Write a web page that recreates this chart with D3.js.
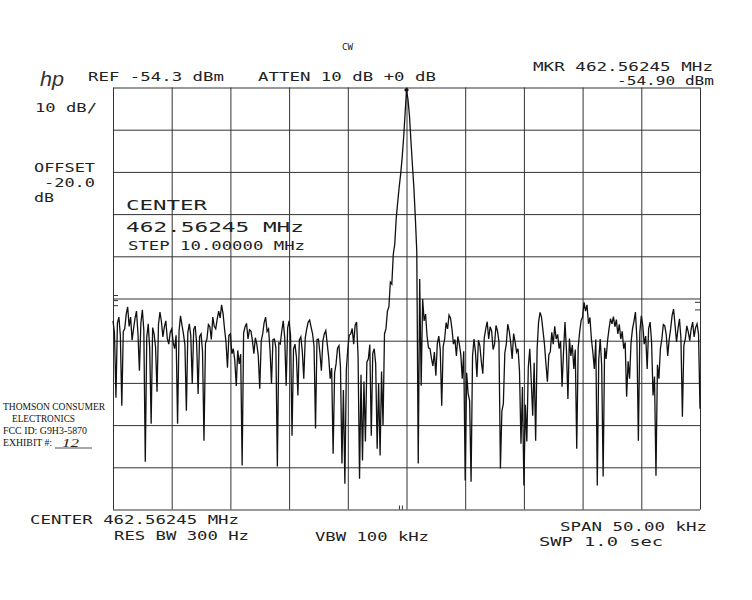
<!DOCTYPE html>
<html>
<head>
<meta charset="utf-8">
<script src="https://cdn.jsdelivr.net/npm/d3@7"></script>
<style>
  html, body { margin: 0; padding: 0; background: #fff; }
  svg { display: block; }
</style>
</head>
<body>
<svg id="chart" width="752" height="600"></svg>
<script>
// ---- Data ----
const refLevelDbm = -54.3;
const dbPerDiv = 10;
const divisions = 10;
const centerMHz = 462.56245;
const spanKHz = 50;
const sweepStartKHz = -25;   // offset from center
const sweepStopKHz = 25;

// trace level in dBm, 401 evenly spaced sweep points from -25 kHz to +25 kHz
const levelDbm = [
 -109.6,-112.4,-127.8,-110.2,-108.7,-113.0,-129.7,-112.1,-111.5,-108.0,
 -106.3,-110.9,-108.7,-114.2,-111.5,-109.0,-107.3,-112.5,-121.4,-110.1,
 -107.0,-111.8,-143.0,-113.5,-110.3,-116.0,-134.0,-111.2,-112.7,-115.8,
 -126.4,-110.4,-107.5,-109.8,-113.4,-111.0,-109.6,-113.8,-115.1,-112.3,
 -111.5,-114.7,-116.2,-113.0,-134.0,-112.0,-108.4,-110.6,-112.7,-115.3,
 -130.9,-112.4,-110.3,-113.1,-124.5,-111.6,-110.8,-114.9,-126.9,-113.3,
 -112.7,-116.8,-138.0,-115.0,-113.9,-110.5,-111.0,-114.0,-108.7,-110.9,
 -111.5,-109.2,-107.3,-108.9,-105.8,-107.9,-111.5,-114.6,-120.7,-113.0,
 -112.7,-117.4,-116.2,-119.0,-125.0,-116.6,-119.8,-117.5,-143.9,-112.5,
 -111.0,-110.2,-113.9,-111.7,-112.0,-114.3,-117.4,-113.6,-115.1,-117.9,
 -125.7,-114.4,-112.7,-110.0,-108.7,-112.1,-111.5,-116.5,-124.5,-114.0,
 -113.9,-116.0,-144.1,-114.8,-115.1,-112.0,-109.6,-113.5,-125.0,-111.3,
 -109.6,-113.2,-136.8,-116.3,-115.1,-118.2,-127.3,-114.1,-113.4,-116.9,
 -123.3,-113.7,-111.5,-109.9,-109.4,-111.1,-112.7,-115.6,-135.1,-114.0,
 -113.9,-117.2,-121.4,-114.4,-112.7,-111.9,-115.1,-118.3,-123.3,-120.8,
 -141.1,-122.0,-119.8,-116.1,-115.5,-120.5,-143.4,-126.0,-148.2,-121.2,
 -116.2,-113.0,-112.7,-111.4,-115.1,-110.6,-109.9,-118.0,-147.0,-122.4,
 -142.7,-124.0,-138.2,-119.4,-118.6,-115.2,-136.8,-117.3,-116.2,-119.8,
 -139.9,-124.4,-141.5,-121.6,-134.4,-112.7,-111.5,-107.3,-106.3,-100.4,
 -100.9,-93.8,-91.4,-85.3,-81.5,-77.9,-74.9,-71.1,-66.4,-60.7,
 -54.9,-57.1,-60.9,-66.8,-72.5,-77.9,-85.0,-93.1,-143.4,-99.7,
 -125.0,-104.4,-109.6,-108.0,-113.2,-116.0,-116.2,-118.5,-120.3,-117.0,
 -122.6,-115.0,-113.2,-116.4,-129.7,-115.7,-113.9,-110.0,-111.5,-108.2,
 -108.9,-111.6,-115.1,-114.0,-117.9,-113.3,-115.1,-117.6,-123.3,-116.8,
 -147.4,-121.9,-126.9,-128.5,-147.7,-118.0,-113.9,-117.0,-122.9,-114.2,
 -115.5,-119.3,-122.1,-113.6,-111.5,-109.8,-113.9,-111.0,-112.0,-116.4,
 -115.1,-110.7,-112.0,-114.5,-144.6,-131.0,-129.2,-117.2,-115.1,-110.4,
 -112.0,-114.8,-118.6,-112.6,-114.6,-117.0,-116.2,-121.5,-138.7,-125.3,
 -148.6,-129.5,-138.2,-120.6,-116.2,-123.8,-132.1,-119.5,-138.0,-116.3,
 -109.9,-107.6,-108.7,-111.9,-115.1,-119.7,-124.0,-117.6,-116.9,-112.3,
 -115.1,-110.9,-113.9,-112.8,-116.2,-114.4,-125.2,-117.0,-109.9,-116.6,
 -128.1,-113.8,-117.9,-115.3,-121.0,-116.4,-139.9,-115.9,-112.2,-109.5,
 -108.7,-105.2,-107.3,-105.8,-110.3,-108.8,-113.9,-117.1,-121.0,-114.0,
 -148.6,-118.8,-113.9,-120.2,-146.5,-116.0,-118.6,-114.3,-111.5,-109.1,
 -110.3,-108.6,-111.0,-109.3,-112.7,-110.4,-113.9,-112.1,-116.2,-114.7,
 -127.6,-119.2,-123.3,-114.8,-111.5,-109.7,-107.5,-113.9,-138.0,-112.3,
 -108.4,-110.7,-115.1,-113.2,-121.0,-111.4,-109.9,-114.6,-127.3,-122.8,
 -146.3,-120.0,-123.3,-116.2,-113.9,-110.5,-110.8,-112.9,-117.9,-114.0,
 -111.5,-108.3,-106.8,-110.6,-114.6,-111.5,-109.1,-113.7,-132.3,-115.4,
 -113.9,-110.8,-112.2,-114.3,-111.5,-109.9,-113.4,-111.2,-110.3,-112.8,
 -130.4
];
const markerKHz = 0;
const markerDbm = -54.90;

// annotation texts
const headerLeft = "REF -54.3 dBm";
const headerMid = "ATTEN 10 dB +0 dB";
const headerMkr1 = "MKR 462.56245 MHz";
const headerMkr2 = "-54.90 dBm";
const sideLabels = ["10 dB/", "OFFSET", "-20.0", "dB"];
const centerBlock = ["CENTER", "462.56245 MHz", "STEP 10.00000 MHz"];
const footLabels = ["CENTER 462.56245 MHz", "RES BW 300 Hz", "VBW 100 kHz", "SPAN 50.00 kHz", "SWP 1.0  sec"];
const stampLines = ["THOMSON CONSUMER", "ELECTRONICS", "FCC ID:  G9H3-5870", "EXHIBIT #:"];
const exhibitNo = "12";

// ---- Drawing ----
const svg = d3.select("#chart");
const L = 113, R = 700, T = 87.5, B = 509.5;
const x = d3.scaleLinear().domain([sweepStartKHz, sweepStopKHz]).range([L, R]);
const y = d3.scaleLinear().domain([refLevelDbm - dbPerDiv * divisions, refLevelDbm]).range([B, T]);

const n = levelDbm.length;
const freqs = levelDbm.map((_, i) => sweepStartKHz + i * (sweepStopKHz - sweepStartKHz) / (n - 1));

const gridColor = "#333";
const xTicks = d3.range(divisions + 1).map(i => sweepStartKHz + i * spanKHz / divisions);
const yTicks = d3.range(divisions + 1).map(i => refLevelDbm - i * dbPerDiv);

const gx = svg.append("g").attr("transform", `translate(0,${B})`)
  .call(d3.axisBottom(x).tickValues(xTicks).tickSize(-(B - T)).tickFormat(""));
const gy = svg.append("g").attr("transform", `translate(${L},0)`)
  .call(d3.axisLeft(y).tickValues(yTicks).tickSize(-(R - L)).tickFormat(""));
[gx, gy].forEach(g => {
  g.select(".domain").remove();
  g.selectAll(".tick line").attr("stroke", gridColor).attr("stroke-width", 1);
});

// small reference marks on the frame
const mk = svg.append("g").attr("stroke", "#333").attr("stroke-width", 1).attr("fill", "none");
mk.append("path").attr("d", `M${L},${y(-103.6)}h5M${L},${y(-104.8)}h5M${L},${y(-106.0)}h5`);
mk.append("path").attr("d", `M${R-5},${y(-105.2)}h5M${R-5},${y(-107.0)}h5`);
mk.append("path").attr("d", `M${x(-0.6)},${B-4}v4M${x(-0.35)},${B-4}v4`);

// trace
const line = d3.line().x((d, i) => x(freqs[i])).y(d => y(d));
svg.append("path").datum(levelDbm)
  .attr("d", line)
  .attr("fill", "none")
  .attr("stroke", "#111")
  .attr("stroke-width", 1.3)
  .attr("stroke-linejoin", "miter");

// marker
const mx = x(markerKHz), my = y(markerDbm);
svg.append("path")
  .attr("d", `M${mx-2.5},${my}L${mx},${my-2.5}L${mx+2.5},${my}L${mx},${my+2.5}Z`)
  .attr("fill", "#111");

// texts
const mono = "'DejaVu Sans Mono', 'Liberation Mono', monospace";
function txt(s, px, py, w, size, opts = {}) {
  const t = svg.append("text")
    .attr("x", px).attr("y", py)
    .attr("font-family", opts.family || mono)
    .attr("font-size", size)
    .attr("fill", opts.fill || "#222")
    .text(s);
  if (w) t.attr("textLength", w).attr("lengthAdjust", "spacingAndGlyphs");
  if (opts.italic) t.attr("font-style", "italic");
  if (opts.weight) t.attr("font-weight", opts.weight);
  return t;
}

txt("CW", 342, 50, 11, 8);
txt("hp", 40, 86, 24, 20, { family: "'Liberation Sans', 'DejaVu Sans', sans-serif", italic: true, fill: "#333" });
txt(headerLeft, 88, 81, 136, 11.5);
txt(headerMid, 258, 81, 178, 11.5);
txt(headerMkr1, 533, 71, 180, 11.5);
txt(headerMkr2, 617, 85, 97, 11.5);

txt(sideLabels[0], 35, 112, 62, 11.5);
txt(sideLabels[1], 34, 172, 61, 11.5);
txt(sideLabels[2], 44, 187, 51, 11.5);
txt(sideLabels[3], 34, 202, 20, 11.5);

txt(centerBlock[0], 126, 210, 81, 14);
txt(centerBlock[1], 126, 232, 178, 14);
txt(centerBlock[2], 128, 250, 177, 11.5);

txt(footLabels[0], 30, 524, 209, 11.5);
txt(footLabels[1], 114, 540, 135, 11.5);
txt(footLabels[2], 315, 541, 114, 11.5);
txt(footLabels[3], 560, 531, 147, 11.5);
txt(footLabels[4], 539, 546, 124, 11.5);

const serif = "'Liberation Serif', 'Times New Roman', serif";
txt(stampLines[0], 3, 410, 102, 9.5, { family: serif, fill: "#111" });
txt(stampLines[1], 12, 422, 63, 9.5, { family: serif, fill: "#111" });
txt(stampLines[2], 3, 434, 84, 9.5, { family: serif, fill: "#111" });
txt(stampLines[3], 3, 446, 49, 9.5, { family: serif, fill: "#111" });
svg.append("line").attr("x1", 55).attr("x2", 92).attr("y1", 448).attr("y2", 448).attr("stroke", "#222").attr("stroke-width", 0.8);
txt(exhibitNo, 62, 447, 17, 12, { family: serif, italic: true, fill: "#222" });
</script>
</body>
</html>
